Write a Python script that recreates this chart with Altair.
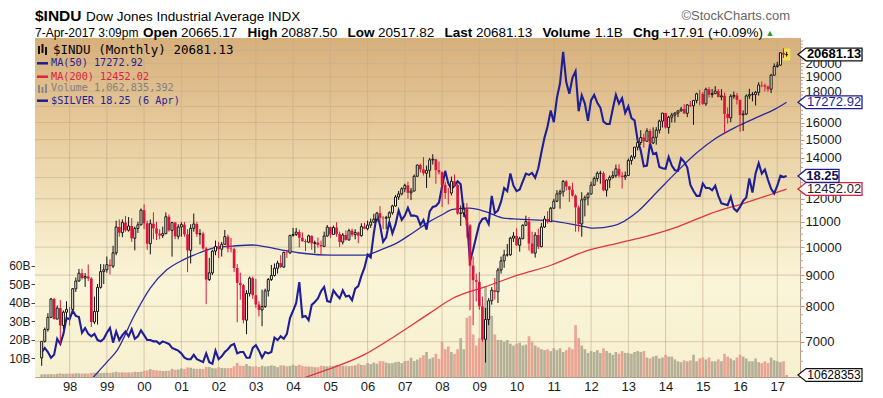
import altair as alt
import pandas as pd

W, H = 765, 339
FONT = "Liberation Sans"
MONO = "DejaVu Sans Mono"

# ---------------- data (monthly, Apr 1997 .. Apr 2017) ----------------
closes = [
    7009, 7331, 7673, 8223, 7622, 7945, 7442, 7823, 7908,
    7907, 8546, 8800, 9063, 8900, 8952, 8883, 7539, 7843, 8592, 9117, 9181,
    9359, 9307, 9786, 10789, 10560, 10971, 10655, 10829, 10337, 10729, 10878, 11497,
    10941, 10128, 10922, 10734, 10522, 10448, 10522, 11215, 10651, 10971, 10415, 10787,
    10887, 10495, 9879, 10735, 10912, 10502, 10523, 9950, 8848, 9075, 9852, 10022,
    9920, 10106, 10404, 9946, 9925, 9243, 8737, 8664, 7592, 8397, 8896, 8342,
    8054, 7891, 7992, 8480, 8850, 8985, 9234, 9416, 9275, 9801, 9782, 10454,
    10488, 10584, 10358, 10226, 10188, 10435, 10140, 10174, 10080, 10027, 10428, 10783,
    10490, 10766, 10504, 10193, 10467, 10275, 10641, 10482, 10569, 10440, 10806, 10718,
    10865, 10993, 11109, 11367, 11168, 11150, 11186, 11381, 11679, 12081, 12222, 12463,
    12622, 12269, 12354, 13063, 13628, 13409, 13212, 13358, 13896, 13930, 13372, 13265,
    12650, 12266, 12263, 12820, 12638, 11350, 11378, 11544, 10851, 9325, 8829, 8776,
    8001, 7063, 7609, 8168, 8500, 8447, 9172, 9496, 9712, 9713, 10345, 10428,
    10067, 10325, 10857, 11009, 10137, 9774, 10466, 10015, 10788, 11118, 11006, 11578,
    11892, 12226, 12320, 12811, 12570, 12414, 12143, 11614, 10913, 11955, 12046, 12218,
    12633, 12952, 13212, 13214, 12393, 12880, 13009, 13091, 13437, 13096, 13026, 13104,
    13861, 14054, 14579, 14840, 15116, 14910, 15500, 14810, 15130, 15546, 16086, 16577,
    15699, 16322, 16458, 16581, 16717, 16827, 16563, 17098, 17043, 17391, 17828, 17823,
    17165, 18133, 17776, 17841, 18011, 17620, 17690, 16528, 16285, 17664, 17720, 17425,
    16466, 16517, 17685, 17774, 17787, 17930, 18432, 18401, 18308, 18142, 19124, 19763,
    19864, 20812, 20663, 20681.13,
]
highs = [
    7009, 7383, 7796, 8254, 8259, 8023, 8189, 7874, 8153,
    7978, 8570, 8920, 9211, 9211, 9070, 9367, 8930, 8300, 8700, 9380, 9375,
    9650, 9550, 10050, 11050, 11100, 11100, 11250, 11200, 11150, 10800, 11000, 11570,
    11750, 11050, 11100, 11400, 11000, 10700, 10800, 11400, 11310, 11000, 11000, 10900,
    10990, 11000, 10700, 10900, 11350, 11000, 10700, 10600, 10000, 9600, 9900, 10250,
    10200, 10200, 10670, 10480, 10350, 9980, 9380, 9080, 8700, 8500, 8950, 8950,
    8870, 8150, 8520, 8550, 8900, 9350, 9400, 9500, 9700, 9830, 9900, 10460,
    10750, 10750, 10680, 10570, 10300, 10480, 10450, 10250, 10370, 10250, 10600, 10870,
    10800, 10850, 10985, 10600, 10550, 10650, 10720, 10720, 10700, 10600, 10940, 10960,
    11050, 11140, 11340, 11420, 11670, 11250, 11250, 11450, 11730, 12170, 12360, 12530,
    12700, 12800, 12500, 13150, 13650, 13700, 14050, 13600, 14000, 14198, 13950, 13800,
    13300, 12800, 12500, 13050, 13150, 12700, 11700, 11800, 11800, 10900, 9650, 9050,
    9100, 8300, 7950, 8250, 8600, 8900, 9250, 9650, 9900, 10120, 10400, 10580,
    10730, 10400, 10900, 11260, 11200, 10600, 10580, 10720, 10950, 11250, 11450, 11640,
    12000, 12400, 12420, 12880, 12880, 12600, 12750, 12200, 11700, 12300, 12150, 12300,
    12800, 13050, 13300, 13340, 13300, 12900, 13100, 13330, 13650, 13670, 13290, 13300,
    13970, 14150, 14590, 14890, 15540, 15340, 15660, 15620, 15710, 15720, 16170, 16590,
    16590, 16400, 16590, 16630, 16740, 16970, 17150, 17150, 17350, 17400, 17900, 18100,
    17950, 18250, 18290, 18150, 18350, 18150, 18140, 17900, 16930, 17800, 17980, 17890,
    17430, 16750, 17790, 18170, 17950, 18020, 18620, 18670, 18530, 18400, 19220, 19990,
    20125, 20850, 21169, 20887.50,
]
lows = [
    6391, 6977, 7269, 7653, 7614, 7620, 6937, 7335, 7660,
    7439, 7890, 8444, 8780, 8850, 8605, 8800, 7400, 7480, 7467, 8550, 8700,
    9080, 9020, 9240, 9700, 10400, 10380, 10600, 10600, 10200, 9880, 10550, 10850,
    10700, 9900, 9730, 10300, 10270, 10300, 10350, 10500, 10600, 9650, 10300, 10300,
    10400, 10400, 9100, 9400, 10600, 10400, 10100, 9900, 8062, 8800, 9000, 9700,
    9600, 9650, 10100, 9800, 9800, 9100, 7532, 8200, 7500, 7200, 8300, 8230,
    7950, 7700, 7420, 7950, 8300, 8800, 8950, 9050, 9250, 9250, 9600, 9750,
    10400, 10430, 9990, 10200, 9850, 10150, 9900, 9780, 9980, 9700, 10000, 10400,
    10350, 10470, 10400, 10000, 10100, 10250, 10250, 10400, 10300, 10150, 10400, 10700,
    10650, 10750, 10950, 11000, 11000, 10700, 10700, 11000, 11300, 11650, 11950, 12150,
    12300, 12000, 11940, 12350, 13050, 13250, 13100, 12500, 13000, 13650, 12700, 13150,
    11630, 12000, 11750, 12150, 12550, 11300, 10830, 11200, 10360, 7880, 7450, 8150,
    7900, 7000, 6470, 7450, 8050, 8200, 8100, 9050, 9250, 9650, 9680, 10200,
    10050, 9830, 10300, 10850, 9870, 9750, 9610, 9930, 10000, 10750, 10930, 11000,
    11570, 11850, 11560, 12100, 12380, 11860, 12100, 10600, 10600, 10400, 11230, 11700,
    12200, 12600, 12800, 12700, 12350, 12100, 12500, 12950, 13000, 13000, 12470, 12880,
    13100, 13650, 13940, 14400, 14700, 14550, 14900, 14760, 14750, 14720, 15350, 15700,
    15640, 15340, 16000, 16000, 16330, 16680, 16530, 16330, 16950, 15860, 17200, 17070,
    17100, 17040, 17580, 17580, 17850, 17590, 17400, 15370, 15940, 16010, 17500, 17130,
    15450, 15500, 16450, 17480, 17330, 17060, 17710, 18280, 17990, 17960, 17880, 19100,
    19680, 19830, 20410, 20517.82,
]
first_open = 6583.0
last_open = 20665.17

silver = [
    4.55, 4.70, 4.55, 4.35, 4.45, 5.05, 4.85, 5.25, 5.95,
    5.90, 6.30, 6.05, 6.00, 5.30, 5.50, 5.25, 5.15, 5.25, 5.00, 4.95, 5.05,
    5.30, 5.50, 4.90, 5.35, 5.00, 5.20, 5.35, 5.15, 5.45, 5.05, 5.15, 5.40,
    5.20, 5.00, 5.00, 4.95, 4.95, 4.85, 4.95, 4.90, 4.85, 4.70, 4.65, 4.60,
    4.50, 4.35, 4.30, 4.30, 4.45, 4.30, 4.25, 4.20, 4.50, 4.20, 4.15, 4.60,
    4.30, 4.40, 4.55, 4.65, 4.80, 4.85, 4.50, 4.55, 4.55, 4.35, 4.35, 4.70,
    4.80, 4.60, 4.35, 4.55, 4.50, 4.55, 5.10, 5.00, 5.15, 5.05, 5.25, 5.95,
    6.30, 6.70, 7.90, 6.00, 6.05, 5.85, 6.60, 6.75, 6.95, 7.35, 7.60, 6.80,
    6.75, 7.40, 7.15, 6.95, 7.40, 7.05, 7.10, 6.85, 7.50, 7.65, 8.30, 8.85,
    9.80, 9.60, 11.60, 13.50, 12.40, 10.85, 11.25, 12.75, 11.60, 12.45, 13.90, 12.90,
    13.35, 14.20, 13.35, 13.35, 13.25, 12.40, 12.90, 11.95, 13.80, 14.30, 14.40, 14.80,
    16.80, 19.00, 17.20, 16.50, 16.90, 17.50, 17.10, 13.60, 12.90, 9.30, 10.20, 11.30,
    12.50, 13.00, 13.10, 12.50, 15.60, 13.60, 13.90, 14.90, 16.60, 16.20, 18.60, 16.90,
    16.20, 16.40, 17.50, 18.60, 18.40, 18.70, 18.00, 19.40, 22.00, 24.70, 27.00, 30.60,
    27.90, 33.80, 37.90, 48.60, 38.30, 34.90, 39.60, 41.70, 30.40, 34.50, 32.30, 28.20,
    33.20, 34.60, 32.50, 31.30, 28.00, 27.50, 27.50, 31.00, 34.60, 32.30, 33.70, 30.00,
    31.60, 28.80, 28.30, 24.20, 22.30, 19.70, 19.80, 23.60, 21.70, 21.90, 19.60, 19.40,
    19.30, 21.20, 19.80, 19.10, 19.00, 21.00, 20.40, 19.50, 17.00, 16.20, 15.60, 15.60,
    17.20, 16.60, 16.60, 16.30, 16.90, 15.60, 14.70, 14.60, 14.50, 15.50, 14.10, 13.80,
    14.30, 15.00, 15.40, 17.90, 16.00, 18.60, 20.20, 18.60, 19.20, 17.70, 16.50, 15.90,
    16.90, 18.30, 18.10, 18.25,
]
volume_b = [
    1.4, 1.5, 1.5, 1.6, 1.5, 1.7, 2.0, 1.7, 1.8,
    1.9, 1.8, 2.0, 2.0, 1.8, 1.9, 1.9, 2.2, 2.3, 2.4, 2.1, 2.2,
    2.3, 2.2, 2.5, 2.8, 2.5, 2.5, 2.4, 2.5, 2.5, 2.8, 2.7, 2.8,
    3.4, 3.6, 4.3, 3.8, 3.6, 3.4, 3.2, 3.3, 3.4, 4.4, 3.9, 4.1,
    4.6, 4.3, 5.2, 5.0, 4.5, 4.4, 4.4, 4.3, 5.4, 5.4, 4.8, 4.6,
    5.2, 4.9, 4.8, 4.8, 4.9, 5.8, 7.6, 6.1, 6.0, 7.0, 5.9, 5.6,
    5.8, 5.4, 6.1, 5.7, 5.9, 6.3, 6.0, 5.3, 6.3, 6.2, 5.8, 6.0,
    6.6, 6.0, 6.6, 6.0, 5.7, 5.6, 5.6, 5.3, 5.3, 6.1, 5.9, 5.7,
    6.0, 6.0, 6.5, 6.3, 6.0, 6.1, 5.9, 6.1, 6.3, 7.2, 6.6, 6.4,
    7.5, 7.0, 7.8, 7.2, 8.6, 8.5, 7.8, 7.4, 7.5, 8.0, 8.2, 7.5,
    8.6, 8.8, 10.4, 8.6, 9.4, 10.4, 11.8, 13.5, 9.8, 10.5, 12.5, 9.8,
    19.0, 15.0, 16.5, 13.5, 12.5, 15.0, 21.0, 15.0, 32.0, 33.0, 23.0, 17.0,
    21.0, 22.0, 49.0, 34.0, 33.0, 23.0, 20.0, 20.0, 19.0, 20.0, 18.0, 17.0,
    18.0, 18.5, 17.0, 17.5, 22.0, 19.0, 17.0, 16.0, 15.0, 14.5, 15.0, 14.0,
    15.5, 14.5, 15.5, 13.5, 14.5, 16.0, 15.0, 28.0, 21.0, 17.0, 15.0, 13.0,
    14.0, 13.5, 14.5, 13.0, 15.5, 14.0, 13.0, 12.0, 13.5, 12.5, 14.0, 13.0,
    13.0, 12.5, 13.5, 14.0, 13.5, 14.0, 10.5, 10.0, 11.0, 11.5, 10.0, 10.5,
    12.0, 11.0, 11.0, 9.5, 8.5, 8.0, 9.0, 8.5, 9.0, 12.0, 8.5, 10.0,
    10.5, 9.5, 10.5, 8.5, 8.5, 9.5, 8.5, 12.5, 11.0, 10.0, 9.0, 10.5,
    12.0, 11.0, 10.0, 8.5, 8.5, 10.0, 8.0, 7.5, 8.5, 7.5, 10.5, 9.0,
    8.5, 8.0, 8.5, 1.06,
]
ma50_t = [1998.45, 1999.0, 1999.28, 1999.72, 2000.16, 2000.6, 2001.05, 2001.49, 2001.93,
          2002.37, 2002.9, 2003.7, 2004.14, 2005.02, 2005.9, 2006.34, 2006.78, 2007.22,
          2007.66, 2008.0, 2008.29, 2008.73, 2009.17, 2009.61, 2010.05, 2010.94, 2011.82,
          2012.08, 2012.58, 2013.24, 2013.77, 2014.3, 2014.83, 2015.36, 2015.89, 2016.42,
          2016.95, 2017.25]
ma50_v = [5950, 6480, 6780, 7690, 8560, 9170, 9530, 9790, 9990,
          10040, 10080, 9890, 9790, 9700, 9700, 9890, 10150, 10560,
          11010, 11300, 11530, 11580, 11430, 11170, 11110, 11040, 10800,
          10740, 10830, 11420, 12310, 13280, 14260, 15090, 15730, 16280,
          16840, 17272.92]
ma200_t = [2004.0, 2004.6, 2005.02, 2005.9, 2006.78, 2007.66, 2008.29, 2009.17, 2010.05,
           2010.94, 2011.82, 2012.7, 2013.46, 2014.34, 2015.22, 2016.1, 2017.25]
ma200_v = [6020, 6200, 6330, 6660, 7180, 7790, 8245, 8614, 9003,
           9348, 9830, 10145, 10403, 10801, 11362, 11799, 12452.02]

year_ticks = list(range(1998, 2018))
price_labels = [7000, 8000, 9000, 10000, 11000, 12000, 14000, 15000, 16000,
                18000, 19000, 20000]
grid_prices = list(range(7000, 22000, 1000))
minor_prices = [v for v in range(6250, 22000, 250) if v % 1000]
vol_ticks = [10, 20, 30, 40, 50, 60]

# ---------------- tables ----------------
n = len(closes)
t = [1997.25 + i / 12 for i in range(n)]
opens = [first_open] + closes[:-1]
opens[-1] = last_open
df = pd.DataFrame({"t": t, "open": opens, "high": highs, "low": lows,
                   "close": closes, "silver": silver, "vol": volume_b})
df["dir"] = ["up" if c >= o else "down" for o, c in zip(opens, closes)]
df["blo"] = df[["open", "close"]].min(axis=1)
df["bhi"] = df[["open", "close"]].max(axis=1)
ONE = pd.DataFrame({"k": [0]})

# ---------------- scales ----------------
XSC = alt.Scale(domain=[1997.205, 2017.475], nice=False, zero=False)
XAX = alt.Axis(values=year_ticks, labelExpr="substring(toString(datum.value), 2, 4)",
               grid=False, ticks=False, domain=False, labelFont=FONT, labelFontSize=13,
               labelColor="#1a1a1a", labelPadding=3, title=None, labelOverlap=False,
               labelFlush=False)
PSC = alt.Scale(type="log", domain=[6127, 22006], nice=False)
SSC = alt.Scale(type="log", domain=[3.736, 54.2], nice=False)
VSC = alt.Scale(domain=[0, 183], nice=False)


def X(f="t"):
    return alt.X(f"{f}:Q", scale=XSC, axis=XAX)


def YP(f):
    return alt.Y(f"{f}:Q", scale=PSC, axis=None)


UPDOWN = lambda up, down: alt.condition("datum.dir == 'up'", alt.value(up), alt.value(down))


def txt(s, x, y, size, color="#000000", weight="normal", font=FONT, align="left",
        baseline="alphabetic"):
    return alt.Chart(ONE).mark_text(text=s, font=font, fontSize=size, fontWeight=weight,
                                    color=color, align=align, baseline=baseline).encode(
        x=alt.value(x), y=alt.value(y))


def hrule(x1, x2, y, color, w=2.5):
    return alt.Chart(ONE).mark_rule(color=color, strokeWidth=w).encode(
        x=alt.value(x1), x2=alt.value(x2), y=alt.value(y))


def vrule(x, y1, y2, color, w=2):
    return alt.Chart(ONE).mark_rule(color=color, strokeWidth=w).encode(
        x=alt.value(x), y=alt.value(y1), y2=alt.value(y2))


layers = []

# background gradient
grad = alt.LinearGradient(gradient="linear", x1=0, x2=0, y1=0, y2=1, stops=[
    alt.GradientStop(color="#D7B07C", offset=0),
    alt.GradientStop(color="#E5C899", offset=0.25),
    alt.GradientStop(color="#F2E3BC", offset=0.5),
    alt.GradientStop(color="#FAF5D8", offset=0.72),
    alt.GradientStop(color="#F7F0D0", offset=1),
])
layers.append(alt.Chart(ONE).mark_rect(color=grad).encode(
    x=alt.value(0), x2=alt.value(W), y=alt.value(0), y2=alt.value(H)))

# grids + right price axis
layers.append(alt.Chart(pd.DataFrame({"p": grid_prices})).mark_rule(
    color="#C4AC8A", strokeWidth=1, opacity=0.6).encode(
    y=alt.Y("p:Q", scale=PSC, axis=alt.Axis(
        orient="right", values=price_labels, format="d", grid=False, domain=False,
        tickColor="#C48E8E", tickSize=4, labelPadding=1, labelFont=FONT, labelFontSize=13,
        labelColor="#1a1a1a", title=None, labelOverlap=False, labelFlush=False)),
    x=alt.value(0), x2=alt.value(W)))
layers.append(alt.Chart(pd.DataFrame({"p": minor_prices})).mark_rule(
    color="#C99A9A", strokeWidth=1).encode(
    y=YP("p"), x=alt.value(W), x2=alt.value(W + 3)))
layers.append(alt.Chart(pd.DataFrame({"yr": year_ticks})).mark_rule(
    color="#C4AC8A", strokeWidth=1, opacity=0.6).encode(
    x=X("yr"), y=alt.value(0), y2=alt.value(H)))

# volume (left axis)
layers.append(alt.Chart(df).mark_bar(size=2.7, opacity=0.85, orient="vertical").encode(
    x=X(),
    y=alt.Y("vol:Q", scale=VSC, axis=alt.Axis(
        orient="left", values=vol_ticks, labelExpr="datum.value + 'B'", grid=False,
        domain=False, tickSize=4, tickColor="#444", labelPadding=1, labelFont=FONT,
        labelFontSize=12, labelColor="#1a1a1a", title=None)),
    color=UPDOWN("#A9A68F", "#E8968A")))

# moving averages
layers.append(alt.Chart(pd.DataFrame({"t": ma200_t, "v": ma200_v})).mark_line(
    color="#E2343F", strokeWidth=1.3, clip=True, interpolate="monotone").encode(
    x=X(), y=YP("v")))
layers.append(alt.Chart(pd.DataFrame({"t": ma50_t, "v": ma50_v})).mark_line(
    color="#2A2AA0", strokeWidth=1.3, clip=True, interpolate="monotone").encode(
    x=X(), y=YP("v")))

# silver overlay
layers.append(alt.Chart(df).mark_line(color="#1E1E96", strokeWidth=2.1).encode(
    x=X(), y=alt.Y("silver:Q", scale=SSC, axis=None)))

# highlight of the current bar
layers.append(alt.Chart(df.tail(1)).mark_point(
    shape="M -0.6 -1 L 0.6 -1 L 0.6 1 L -0.6 1 Z", size=144, filled=True,
    color="#F2E14C", opacity=1).encode(x=X(), y=YP("close")))

# candles
layers.append(alt.Chart(df).mark_rule(strokeWidth=1).encode(
    x=X(), y=YP("low"), y2="high:Q", color=UPDOWN("#111111", "#DC143C")))
layers.append(alt.Chart(df).transform_filter("datum.dir == 'down'").mark_bar(
    size=2.7, color="#DC143C", orient="vertical").encode(x=X(), y=YP("blo"), y2="bhi:Q"))
layers.append(alt.Chart(df).transform_filter("datum.dir == 'up'").mark_bar(
    size=2.0, fill="#FFFDF2", stroke="#111111", strokeWidth=1, orient="vertical").encode(
    x=X(), y=YP("blo"), y2="bhi:Q"))

# ---------------- header ----------------
layers += [
    txt("$INDU", 0, -17.5, 15.5, weight="bold"),
    txt("Dow Jones Industrial Average INDX", 51, -17.5, 13.5),
    txt("\u00a9StockCharts.com", 755, -18, 13, color="#666666", align="right"),
    txt("7-Apr-2017 3:09pm", 0, -1.5, 12),
]
hdr = [("Open", 108, True), ("20665.17", 146, False), ("High", 212.5, True),
       ("20887.50", 246, False), ("Low", 312.5, True), ("20517.82", 343, False),
       ("Last", 409.5, True), ("20681.13", 441, False), ("Volume", 507.5, True),
       ("1.1B", 560, False), ("Chg", 598, True), ("+17.91 (+0.09%)", 627.5, False)]
for s, x, b in hdr:
    layers.append(txt(s, x, -1.5, 13.5, weight="bold" if b else "normal"))
layers.append(txt("\u25b2", 735, -2.5, 9, color="#2E9A2E", align="center"))

# ---------------- legend in plot ----------------
layers += [
    vrule(4, 8, 16, "#111111", 2), vrule(7.5, 6, 15, "#111111", 2), vrule(11, 9, 17, "#111111", 2),
    txt("$INDU (Monthly) 20681.13", 18, 12, 12.5, font=MONO, baseline="middle"),
    hrule(2, 13, 25.3, "#1E1E96"),
    txt("MA(50) 17272.92", 16, 25.3, 10.2, color="#1E1E96", font=MONO, baseline="middle"),
    hrule(2, 13, 38.7, "#E0203C"),
    txt("MA(200) 12452.02", 16, 38.7, 10.2, color="#E0203C", font=MONO, baseline="middle"),
    vrule(4, 47, 55, "#888888", 2), vrule(7.5, 49, 55, "#888888", 2), vrule(11, 46, 55, "#888888", 2),
    txt("Volume 1,062,835,392", 16, 50.3, 10.2, color="#808080", font=MONO, baseline="middle"),
    hrule(2, 13, 62.7, "#1E1E96"),
    txt("$SILVER 18.25 (6 Apr)", 16, 62.7, 10.2, color="#1E1E96", font=MONO, baseline="middle"),
]

# ---------------- right value boxes ----------------
WIDE = "M -1 0 L -0.75 -0.2 L 1 -0.2 L 1 0.2 L -0.75 0.2 Z"
NARROW = "M -1 0 L -0.61 -0.317 L 1 -0.317 L 1 0.317 L -0.61 0.317 Z"
boxes = pd.DataFrame({"v": [20681.13, 17272.92, 12452.02],
                      "s": ["20681.13", "17272.92", "12452.02"],
                      "c": ["#111111", "#1E1E96", "#E0203C"],
                      "tc": ["#000000", "#1E1E96", "#222222"],
                      "b": ["bold", "normal", "normal"]})
layers.append(alt.Chart(boxes).mark_point(
    shape=WIDE, size=4096, filled=False, fill="white", fillOpacity=1, strokeWidth=1.3,
    opacity=1).encode(x=alt.value(795), y=YP("v"), stroke=alt.Stroke("c:N", scale=None)))
for w in ["bold", "normal"]:
    layers.append(alt.Chart(boxes).transform_filter(f"datum.b == '{w}'").mark_text(
        font=FONT, fontSize=13, fontWeight=w, align="center", baseline="middle", dx=4).encode(
        x=alt.value(795), y=YP("v"), text="s:N", color=alt.Color("tc:N", scale=None)))
sil = pd.DataFrame({"v": [18.25], "s": ["18.25"]})
layers.append(alt.Chart(sil).mark_point(
    shape=NARROW, size=1681, filled=False, fill="white", fillOpacity=1, strokeWidth=1.3,
    color="#1E1E96", opacity=1).encode(
    x=alt.value(783.5), y=alt.Y("v:Q", scale=SSC, axis=None)))
layers.append(alt.Chart(sil).mark_text(
    font=FONT, fontSize=13, fontWeight="bold", align="center", baseline="middle",
    color="#10104A", dx=4).encode(
    x=alt.value(783.5), y=alt.Y("v:Q", scale=SSC, axis=None), text="s:N"))
vb = pd.DataFrame({"v": [1.06], "s": ["10628353"]})
layers.append(alt.Chart(vb).mark_point(
    shape=WIDE, size=4096, filled=False, fill="white", fillOpacity=1, strokeWidth=1.2,
    color="#111111", opacity=1).encode(
    x=alt.value(795), y=alt.Y("v:Q", scale=VSC, axis=None)))
layers.append(alt.Chart(vb).mark_text(
    font=FONT, fontSize=12, align="center", baseline="middle", color="#000000", dx=4).encode(
    x=alt.value(795), y=alt.Y("v:Q", scale=VSC, axis=None), text="s:N"))

chart = alt.layer(*layers).resolve_scale(y="independent").properties(
    width=W, height=H,
    autosize=alt.AutoSizeParams(type="none"),
    padding={"left": 27, "top": 30, "right": 74, "bottom": 15},
    background="white",
).configure_view(stroke="#B59E86", strokeWidth=1)

chart.save("out.html", embed_options={"renderer": "svg", "actions": False})
